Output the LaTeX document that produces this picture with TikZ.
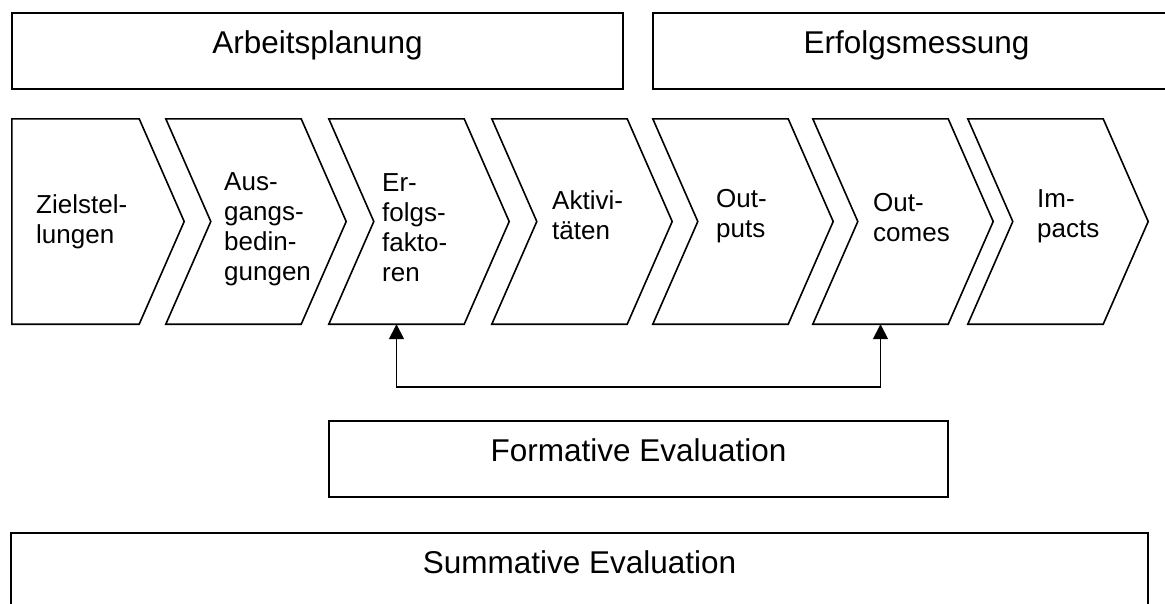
\documentclass[tikz,border=0pt]{standalone}
\usepackage{fontspec}
\setmainfont{Liberation Sans}
\usetikzlibrary{arrows.meta,calc}
\begin{document}
\begin{tikzpicture}[x=1pt,y=-1pt,
  frame/.style={draw, line width=2pt, inner sep=0pt, minimum height=76pt,
    font=\fontsize{31.5}{36}\selectfont, text height=0.72em, text depth=0.21em},
  body/.style={draw=none, inner sep=0pt, minimum height=205pt},
  chev/.style={draw, line width=1.6pt, line join=miter},
  ctext/.style={font=\fontsize{26}{30}\selectfont, align=left, anchor=north west, inner sep=0pt},
  conn/.style={line width=1.6pt, {Triangle[width=15pt,length=15pt]}-{Triangle[width=15pt,length=15pt]}}
]
\useasboundingbox (0,0) rectangle (1165,603);
\begin{scope}
\clip (0,0) rectangle (1165,603);
% header boxes
\node[frame, minimum width=611pt] (ap) at (317.5,51) {Arbeitsplanung};
\node[frame, minimum width=527pt] (em) at (916.5,51) {Erfolgsmessung};
% chevron bodies
\node[body, minimum width=127pt] (ch1) at (75.5,221.5) {};
\node[body, minimum width=135pt] (ch2) at (233.5,221.5) {};
\node[body, minimum width=135pt] (ch3) at (396.5,221.5) {};
\node[body, minimum width=135pt] (ch4) at (559.5,221.5) {};
\node[body, minimum width=135pt] (ch5) at (720.5,221.5) {};
\node[body, minimum width=135pt] (ch6) at (880.5,221.5) {};
\node[body, minimum width=135pt] (ch7) at (1035.5,221.5) {};
\draw[chev] (ch1.north west) -- (ch1.north east) -- ($(ch1.east)+(45,0)$)
  -- (ch1.south east) -- (ch1.south west) -- cycle;
\foreach \n in {2,...,7}
  \draw[chev] (ch\n.north west) -- (ch\n.north east) -- ($(ch\n.east)+(45,0)$)
    -- (ch\n.south east) -- (ch\n.south west) -- ($(ch\n.west)+(45,0)$) -- cycle;
% chevron labels
\node[ctext] (t1) at (36,194) {Zielstel-\\lungen};
\node[ctext] (t2) at (224,172) {Aus-\\gangs-\\bedin-\\gungen};
\node[ctext] (t3) at (382,173) {Er-\\folgs-\\fakto-\\ren};
\node[ctext] (t4) at (552,190) {Aktivi-\\täten};
\node[ctext] (t5) at (716,189) {Out-\\puts};
\node[ctext] (t6) at (873,193) {Out-\\comes};
\node[ctext] (t7) at (1037,189) {Im-\\pacts};
% feedback connector
\draw[conn] (ch3.south) -- ++(0,63) -| (ch6.south);
% evaluation boxes
\node[frame, minimum width=619pt] (fe) at (638.5,459) {Formative Evaluation};
\node[frame, minimum width=1137pt] (se) at (579.5,571) {Summative Evaluation};
\end{scope}
\end{tikzpicture}
\end{document}
